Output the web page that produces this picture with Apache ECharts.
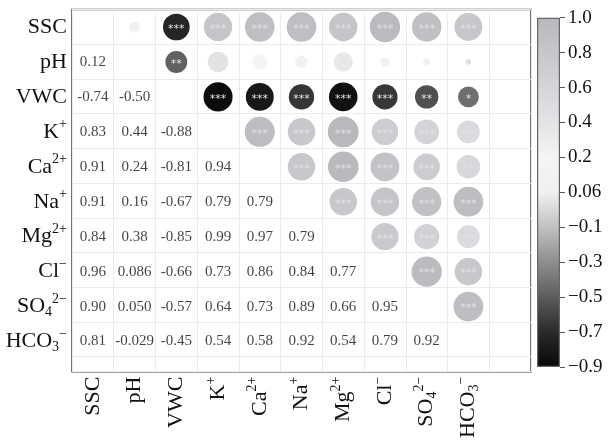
<!DOCTYPE html>
<html><head><meta charset="utf-8">
<script src="https://cdn.jsdelivr.net/npm/echarts@6/dist/echarts.min.js"></script>
<style>html,body{margin:0;padding:0;background:#fff}#c{width:611px;height:441px}</style>
</head><body><div id="c"></div>
<script>
// ---- data ----
const variables = ['SSC','pH','VWC','K+','Ca2+','Na+','Mg2+','Cl-','SO42-','HCO3-'];
const richNames = ['{b|SSC}','{b|pH}','{b|VWC}','{b|K}{sup|+}','{b|Ca}{sup|2+}','{b|Na}{sup|+}',
  '{b|Mg}{sup|2+}','{b|Cl}{sup|−}','{b|SO}{sub|4}{sup|2−}','{b|HCO}{sub|3}{sup|−}'];
// lower triangle correlations (row variable vs earlier columns)
const r_SSC  = [];
const r_pH   = [0.12];
const r_VWC  = [-0.74, -0.50];
const r_K    = [0.83, 0.44, -0.88];
const r_Ca   = [0.91, 0.24, -0.81, 0.94];
const r_Na   = [0.91, 0.16, -0.67, 0.79, 0.79];
const r_Mg   = [0.84, 0.38, -0.85, 0.99, 0.97, 0.79];
const r_Cl   = [0.96, 0.086, -0.66, 0.73, 0.86, 0.84, 0.77];
const r_SO4  = [0.90, 0.050, -0.57, 0.64, 0.73, 0.89, 0.66, 0.95];
const r_HCO3 = [0.81, -0.029, -0.45, 0.54, 0.58, 0.92, 0.54, 0.79, 0.92];
// significance stars (upper triangle: row variable vs later columns)
const s_SSC  = ['', '***','***','***','***','***','***','***','***'];
const s_pH   = ['**','*','','','*','','',''];
const s_VWC  = ['***','***','***','***','***','**','*'];
const s_K    = ['***','***','***','***','***','**'];
const s_Ca   = ['***','***','***','***','**'];
const s_Na   = ['***','***','***','***'];
const s_Mg   = ['***','***','**'];
const s_Cl   = ['***','***'];
const s_SO4  = ['***'];
const s_HCO3 = [];
const colorbarLabels = ['−0.9','−0.7','−0.5','−0.3','−0.1','0.06','0.2','0.4','0.6','0.8','1.0'];

// ---- styles ----
const palette = ['#080808','#2a2a2a','#5c5c5c','#8e8e8e','#c0c0c0','#f0f0f0','#f4f4f6','#e4e4e7','#d5d5d9','#c7c7cb','#b8b8bc'];
const serif = 'Liberation Serif';

const lowerRows = [r_SSC,r_pH,r_VWC,r_K,r_Ca,r_Na,r_Mg,r_Cl,r_SO4,r_HCO3];
const starRows = [s_SSC,s_pH,s_VWC,s_K,s_Ca,s_Na,s_Mg,s_Cl,s_SO4,s_HCO3];
const n = variables.length;
const corr = (i,j) => i > j ? lowerRows[i][j] : lowerRows[j][i];

const circleData = [], textData = [];
for (let i = 0; i < n; i++) {
  for (let j = 0; j < n; j++) {
    if (j > i) circleData.push([j, i, corr(i,j), starRows[i][j - i - 1]]);
    else if (j < i) textData.push([j, i, lowerRows[i][j]]);
  }
}

const richStyle = {
  b: {fontSize: 22, fontFamily: serif, color: '#111'},
  sup: {fontSize: 14, fontFamily: serif, color: '#111', padding: [0,0,14,0]},
  sub: {fontSize: 14, fontFamily: serif, color: '#111', padding: [12,0,0,0]}
};
const xCats = variables.concat(['']);
const gradStops = palette.map((c, k) => ({offset: k / (palette.length - 1), color: c}));

const chart = echarts.init(document.getElementById('c'), null, {renderer: 'canvas'});
chart.setOption({
  animation: false,
  backgroundColor: '#fff',
  grid: [
    {left: 72, right: 80, top: 9.5, bottom: 67, show: true, borderColor: '#444', borderWidth: 1.5, backgroundColor: 'transparent'},
    {left: 72, right: 80, top: 9.5, height: 349.5},
    {left: 537, top: 17.7, width: 23, height: 349.3}
  ],
  xAxis: [
    {gridIndex: 0, type: 'category', data: xCats, boundaryGap: true,
     axisLine: {show: false}, axisTick: {show: false},
     splitLine: {show: true, interval: 0, lineStyle: {color: '#ebebeb', width: 1}},
     axisLabel: {interval: 0, rotate: 90, margin: 5, formatter: (v, idx) => idx < n ? richNames[idx] : '', rich: richStyle}},
    {gridIndex: 1, type: 'category', data: xCats, show: false},
    {gridIndex: 2, type: 'category', data: [''], show: false}
  ],
  yAxis: [
    {gridIndex: 0, type: 'value', inverse: true, min: 0, max: 10.43, interval: 1,
     axisLine: {show: false}, axisTick: {show: false}, axisLabel: {show: false},
     splitLine: {show: true, lineStyle: {color: '#ebebeb', width: 1}}},
    {gridIndex: 1, type: 'category', inverse: true, data: variables,
     axisLine: {show: false}, axisTick: {show: false}, splitLine: {show: false},
     axisLabel: {interval: 0, margin: 5, formatter: (v, idx) => richNames[idx], rich: richStyle}},
    {gridIndex: 2, type: 'value', min: 0, max: colorbarLabels.length - 1, interval: 1, position: 'right',
     axisLine: {show: false}, splitLine: {show: false},
     axisTick: {show: true, length: 5, lineStyle: {color: '#555', width: 1}},
     axisLabel: {margin: 8, fontSize: 19, fontFamily: serif, color: '#111', formatter: v => colorbarLabels[Math.round(v)]}}
  ],
  visualMap: {
    type: 'continuous', show: false, seriesIndex: 0, dimension: 2,
    min: -0.9, max: 1.0, inRange: {color: palette}
  },
  series: [
    {type: 'scatter', xAxisIndex: 1, yAxisIndex: 1, silent: true,
     data: circleData, itemStyle: {opacity: 1},
     symbolSize: v => 31 * Math.sqrt(Math.abs(v[2])),
     label: {show: true, position: 'inside', offset: [0, 2], formatter: p => p.value[3],
             fontSize: 11, fontFamily: 'DejaVu Sans', color: '#e2e2e2'}},
    {type: 'scatter', xAxisIndex: 1, yAxisIndex: 1, silent: true,
     data: textData, symbolSize: 0.1, itemStyle: {color: 'transparent'},
     label: {show: true, position: 'inside', formatter: p => p.value[2].toPrecision(2),
             fontSize: 15, fontFamily: serif, color: '#111'}},
    {type: 'bar', xAxisIndex: 2, yAxisIndex: 2, silent: true, barWidth: '100%',
     data: [colorbarLabels.length - 1],
     itemStyle: {color: new echarts.graphic.LinearGradient(0, 1, 0, 0, gradStops), borderColor: '#666', borderWidth: 1.2}}
  ]
});
</script>
</body></html>
